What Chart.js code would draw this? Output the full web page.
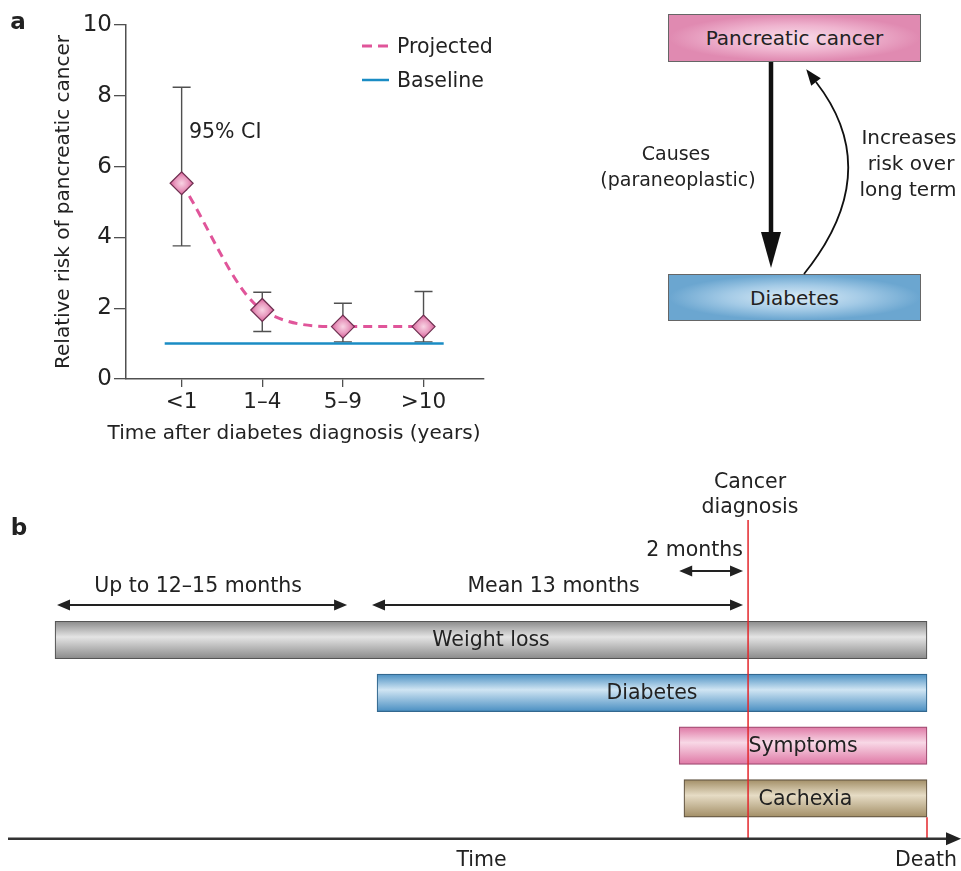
<!DOCTYPE html>
<html><head><meta charset="utf-8">
<script src="https://cdn.jsdelivr.net/npm/chart.js@4.4.0/dist/chart.umd.min.js"></script>
<style>
html,body{margin:0;padding:0;background:#fff;}
#wrap{position:relative;width:961px;height:871px;overflow:hidden;font-family:"DejaVu Sans",sans-serif;color:#222;}
canvas{position:absolute;}
.t{position:absolute;transform:translate(-50%,-50%);white-space:nowrap;font-size:20.5px;line-height:1;}
.l{position:absolute;transform:translate(0,-50%);white-space:nowrap;font-size:20.5px;line-height:1;}
.box{position:absolute;box-sizing:border-box;border:1.5px solid #666;display:flex;align-items:center;justify-content:center;font-size:20px;color:#222;}
.pl{font-weight:bold;font-size:23px;}
svg{position:absolute;left:0;top:0;pointer-events:none;}
</style></head>
<body><div id="wrap">
<canvas id="ca" width="500" height="450" style="left:0;top:0"></canvas>
<canvas id="cb" width="961" height="411" style="left:0;top:460px"></canvas>

<div class="box" style="left:668px;top:14px;width:253px;height:48px;background:radial-gradient(ellipse farthest-side at 50% 50%,#f8dce9 0%,#efb4cf 55%,#e08ab1 100%);">Pancreatic cancer</div>
<div class="box" style="left:668px;top:274px;width:253px;height:47px;background:radial-gradient(ellipse farthest-side at 50% 50%,#dcecf7 0%,#a3cae6 55%,#6ba6d0 100%);">Diabetes</div>

<svg width="961" height="871">
  <line x1="362" y1="46" x2="390" y2="46" stroke="#e0559a" stroke-width="3" stroke-dasharray="10,6"/>
  <line x1="362" y1="80" x2="389" y2="80" stroke="#1a8cc4" stroke-width="2.5"/>
  <line x1="771" y1="62" x2="771" y2="236" stroke="#111" stroke-width="4.5"/>
  <polygon points="761,232 781,232 771,268" fill="#111"/>
  <path d="M804,274 Q886,172 816,82" fill="none" stroke="#111" stroke-width="1.8"/>
  <polygon points="806.2,69.3 820.8,78.3 811.2,85.7" fill="#111"/>
</svg>

<div class="t pl" style="left:18px;top:21px;">a</div>
<div class="t pl" style="left:19px;top:527px;">b</div>
<div class="l" style="left:397px;top:46px;">Projected</div>
<div class="l" style="left:397px;top:80px;">Baseline</div>
<div class="l" style="left:189px;top:131px;">95% CI</div>
<div class="t" style="left:294px;top:432px;font-size:20px;">Time after diabetes diagnosis (years)</div>
<div class="t" style="left:676px;top:153px;font-size:19px;">Causes</div>
<div class="t" style="left:678px;top:179px;font-size:19px;">(paraneoplastic)</div>
<div class="t" style="left:909px;top:137px;font-size:20px;">Increases</div>
<div class="t" style="left:911px;top:163px;font-size:20px;">risk over</div>
<div class="t" style="left:908px;top:189px;font-size:20px;">long term</div>
<div class="t" style="left:750px;top:481px;">Cancer</div>
<div class="t" style="left:750px;top:506px;">diagnosis</div>
</div>
<script>
// ---------- Panel a data ----------
const categories = ['<1', '1–4', '5–9', '>10'];
const projected = [5.53, 1.95, 1.48, 1.48];
const ciLow = [3.76, 1.34, 1.05, 1.05];
const ciHigh = [8.24, 2.45, 2.14, 2.47];
const baselineValue = 1.0;
const baselineFrom = -0.21;
const baselineTo = 3.25;

// ---------- Panel b data (months relative to cancer diagnosis) ----------
const timelineLabels = ['Weight loss', 'Diabetes', 'Symptoms', 'Cachexia'];
const onsetMonths = [-24.75, -13.25, -2.46, -2.29];
const deathMonth = 6.39;
const diagnosisMonth = 0;
const spanLabels = ['Up to 12–15 months', 'Mean 13 months', '2 months'];
const spanStart = [-24.68, -13.43, -2.46];
const spanEnd = [-14.32, -0.18, -0.18];

const FONT = '"DejaVu Sans", sans-serif';
Chart.defaults.font.family = FONT;
Chart.defaults.color = '#222';

// ---------- Panel a ----------
const errorBars = {
  id: 'errorBars',
  beforeDatasetsDraw(chart) {
    const {ctx, scales: {x, y}} = chart;
    ctx.save();
    ctx.strokeStyle = '#505050';
    ctx.lineWidth = 1.4;
    categories.forEach((c, i) => {
      const px = x.getPixelForValue(i);
      const yh = y.getPixelForValue(ciHigh[i]);
      const yl = y.getPixelForValue(ciLow[i]);
      ctx.beginPath();
      ctx.moveTo(px, yh); ctx.lineTo(px, yl);
      ctx.moveTo(px - 9, yh); ctx.lineTo(px + 9, yh);
      ctx.moveTo(px - 9, yl); ctx.lineTo(px + 9, yl);
      ctx.stroke();
    });
    ctx.restore();
  }
};

function diamondFill(c) {
  if (c.type !== 'data' || !c.parsed) return '#e48ab5';
  const ch = c.chart;
  const px = ch.scales.x.getPixelForValue(c.parsed.x);
  const py = ch.scales.y.getPixelForValue(c.parsed.y);
  if (!isFinite(px) || !isFinite(py)) return '#e48ab5';
  const g = ch.ctx.createRadialGradient(px, py, 0, px, py, 11.5);
  g.addColorStop(0, '#f8d3e3');
  g.addColorStop(0.55, '#e99cc0');
  g.addColorStop(1, '#d65b95');
  return g;
}

new Chart(document.getElementById('ca'), {
  type: 'line',
  data: {
    datasets: [
      {
        label: 'Projected',
        data: categories.map((c, i) => ({x: i, y: projected[i]})),
        borderColor: '#e0559a',
        borderWidth: 3,
        borderDash: [9, 6],
        cubicInterpolationMode: 'monotone',
        pointStyle: 'rectRot',
        pointRadius: 11.5,
        pointBackgroundColor: diamondFill,
        pointBorderColor: '#6e3050',
        pointBorderWidth: 1.2
      },
      {
        label: 'Baseline',
        data: [{x: baselineFrom, y: baselineValue}, {x: baselineTo, y: baselineValue}],
        borderColor: '#1a8cc4',
        borderWidth: 2.5,
        pointRadius: 0
      }
    ]
  },
  options: {
    responsive: false,
    animation: false,
    events: [],
    layout: {padding: {left: 40, top: 25, right: 16, bottom: 0}},
    plugins: {legend: {display: false}, tooltip: {enabled: false}},
    scales: {
      x: {
        type: 'linear',
        min: -0.69,
        max: 3.75,
        afterBuildTicks: s => { s.ticks = categories.map((c, i) => ({value: i})); },
        afterFit: s => { s.height = 71; },
        ticks: {callback: v => categories[v], font: {size: 21.5}, color: '#222', padding: 3, maxRotation: 0, autoSkip: false},
        grid: {display: true, drawOnChartArea: false, drawTicks: true, tickLength: 8, color: '#505050', lineWidth: 1.3},
        border: {display: true, color: '#505050', width: 1.5},
        title: {display: false}
      },
      y: {
        min: 0,
        max: 10,
        afterFit: s => { s.width = 86; },
        ticks: {stepSize: 2, font: {size: 23}, color: '#222', padding: 2},
        grid: {display: true, drawOnChartArea: false, drawTicks: true, tickLength: 12, color: '#505050', lineWidth: 1.3},
        border: {display: true, color: '#505050', width: 1.5},
        title: {display: true, text: 'Relative risk of pancreatic cancer', font: {size: 20}, color: '#222', padding: {top: 12, bottom: 0}}
      }
    }
  },
  plugins: [errorBars]
});

// ---------- Panel b ----------
const barStyles = [
  {edge: '#8a8a8a', light: '#e4e4e4', border: '#555555'},
  {edge: '#4a8fc2', light: '#d0e5f3', border: '#33688f'},
  {edge: '#df78a5', light: '#f8d8e6', border: '#9e4a70'},
  {edge: '#a28e66', light: '#e6dcc5', border: '#5f5240'}
];
const THICK = 37.5;

function barFill(c) {
  const st = barStyles[c.dataIndex] || barStyles[0];
  if (c.type !== 'data') return st.edge;
  const ys = c.chart.scales.y;
  const yc = ys ? ys.getPixelForValue(c.dataIndex) : NaN;
  if (!isFinite(yc)) return st.edge;
  const g = c.chart.ctx.createLinearGradient(0, yc - THICK / 2, 0, yc + THICK / 2);
  g.addColorStop(0, st.edge);
  g.addColorStop(0.42, st.light);
  g.addColorStop(1, st.edge);
  return g;
}

const timeline = {
  id: 'timeline',
  afterDatasetsDraw(chart) {
    const {ctx, chartArea: ca, scales: {x: xs}} = chart;
    const meta = chart.getDatasetMeta(0);
    ctx.save();
    ctx.font = '20.5px ' + FONT;
    ctx.fillStyle = '#222';
    ctx.textAlign = 'center';
    ctx.textBaseline = 'middle';
    meta.data.forEach((el, i) => {
      ctx.fillText(timelineLabels[i], (el.x + el.base) / 2, el.y + 1);
    });
    const axisY = ca.bottom + 14;
    // red lines
    const xd = xs.getPixelForValue(diagnosisMonth);
    const xdeath = xs.getPixelForValue(deathMonth);
    ctx.strokeStyle = '#e3262b';
    ctx.lineWidth = 1.5;
    ctx.beginPath(); ctx.moveTo(xd, 60); ctx.lineTo(xd, axisY); ctx.stroke();
    const last = meta.data[meta.data.length - 1];
    ctx.beginPath(); ctx.moveTo(xdeath, last.y + last.height / 2); ctx.lineTo(xdeath, axisY); ctx.stroke();
    // time axis
    ctx.strokeStyle = '#333';
    ctx.lineWidth = 2.5;
    ctx.beginPath(); ctx.moveTo(ca.left, axisY); ctx.lineTo(chart.width - 12, axisY); ctx.stroke();
    ctx.fillStyle = '#222';
    ctx.beginPath();
    ctx.moveTo(chart.width, axisY);
    ctx.lineTo(chart.width - 15, axisY - 6.5);
    ctx.lineTo(chart.width - 15, axisY + 6.5);
    ctx.closePath(); ctx.fill();
    ctx.fillText('Time', (ca.left + ca.right) / 2, axisY + 22);
    ctx.fillText('Death', xdeath - 1, axisY + 22);
    // span arrows
    const levels = [];
    spanLabels.forEach((lab, i) => {
      const a = xs.getPixelForValue(spanStart[i]);
      const b = xs.getPixelForValue(spanEnd[i]);
      let lv = 0;
      for (let j = 0; j < i; j++) {
        if (levels[j] === lv && spanStart[i] < spanEnd[j] && spanEnd[i] > spanStart[j]) lv++;
      }
      levels.push(lv);
      const ay = ca.top - 8.6 - lv * 34;
      ctx.strokeStyle = '#222';
      ctx.lineWidth = 2;
      ctx.beginPath(); ctx.moveTo(a + 8, ay); ctx.lineTo(b - 8, ay); ctx.stroke();
      ctx.beginPath();
      ctx.moveTo(a, ay); ctx.lineTo(a + 13, ay - 5.5); ctx.lineTo(a + 13, ay + 5.5); ctx.closePath();
      ctx.moveTo(b, ay); ctx.lineTo(b - 13, ay - 5.5); ctx.lineTo(b - 13, ay + 5.5); ctx.closePath();
      ctx.fill();
      const w = ctx.measureText(lab).width;
      if (w > b - a) {
        ctx.textAlign = 'right';
        ctx.fillText(lab, b, ay - 20);
        ctx.textAlign = 'center';
      } else {
        ctx.fillText(lab, (a + b) / 2 - 4, ay - 18);
      }
    });
    ctx.restore();
  }
};

new Chart(document.getElementById('cb'), {
  type: 'bar',
  data: {
    labels: timelineLabels,
    datasets: [{
      data: onsetMonths.map(s => [s, deathMonth]),
      backgroundColor: barFill,
      borderColor: barStyles.map(s => s.border),
      borderWidth: 1.2,
      borderSkipped: false,
      barThickness: THICK
    }]
  },
  options: {
    indexAxis: 'y',
    responsive: false,
    animation: false,
    events: [],
    layout: {padding: {left: 8, right: 6, top: 153.6, bottom: 46.2}},
    plugins: {legend: {display: false}, tooltip: {enabled: false}},
    scales: {
      x: {type: 'linear', min: -26.43, max: 7.39, display: false},
      y: {display: false}
    }
  },
  plugins: [timeline]
});
</script>
</body></html>
